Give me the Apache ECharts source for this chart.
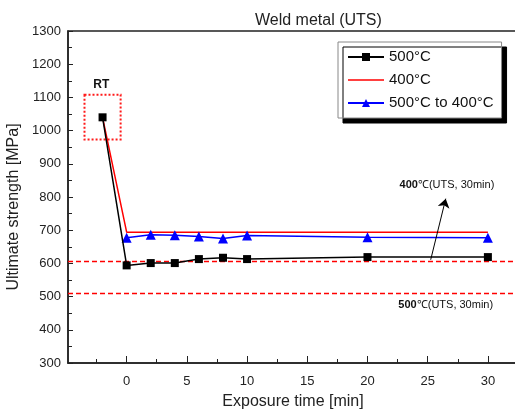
<!DOCTYPE html>
<html><head><meta charset="utf-8">
<script src="https://cdn.jsdelivr.net/npm/echarts@6/dist/echarts.min.js"></script>
<style>html,body{margin:0;padding:0;background:#fff}#c{width:515px;height:412px}</style>
</head><body><div id="c"></div>
<script>
// ---- data ----
const titleText = 'Weld metal (UTS)';
const xName = 'Exposure time [min]';
const yName = 'Ultimate strength [MPa]';
const seriesNames = ['500°C', '400°C', '500°C to 400°C'];
const t500 = [-2, 0, 2, 4, 6, 8, 10, 20, 30];
const v500 = [1040, 594, 601, 601, 613, 617, 613, 619, 619];
const t400 = [-2, 0, 2, 4, 6, 8, 10, 20, 30];
const v400 = [1040, 694, 694, 694, 694, 694, 694, 694, 694];
const t500to400 = [0, 2, 4, 6, 8, 10, 20, 30];
const v500to400 = [677, 686, 685, 681, 675, 684, 679, 677];
const refLevels = [605, 510];            // UTS at 30 min: 400°C, 500°C
const xLabelValues = [0, 5, 10, 15, 20, 25, 30];
const xMinorValues = [-2.5, 2.5, 7.5, 12.5, 17.5, 22.5, 27.5, 32.5];
const rtBox = [[-3.5, 1108], [-0.5, 973]];
const rtLabel = [-2.1, 1137];
const arrowLine = [[25.25, 611], [26.5, 795]];
const note400 = [26.6, 837];
const note500 = [26.5, 476];

const zip = (a, b) => a.map((x, i) => [x, b[i]]);
const FONT = 'Liberation Sans, Arial, sans-serif';
const RED = '#ff0000';

const chart = echarts.init(document.getElementById('c'), null, {renderer: 'canvas'});
const noteLabel = (num) => ({
  show: true, position: 'inside',
  formatter: '{b|' + num + '}{n|℃(UTS, 30min)}',
  rich: {
    b: {fontWeight: 'bold', fontSize: 11, color: '#111', fontFamily: FONT},
    n: {fontSize: 11, color: '#111', fontFamily: FONT}
  }
});
const dashStyle = {color: RED, width: 1.3, type: [5, 3], opacity: 1};

chart.setOption({
  animation: false,
  backgroundColor: '#fff',
  title: {
    text: titleText, left: 250, top: 8,
    textStyle: {fontSize: 16, fontWeight: 'normal', color: '#222', fontFamily: FONT}
  },
  grid: {left: 68, top: 31, right: -3, bottom: 49, outerBoundsMode: 'none', containLabel: false,
         show: true, borderColor: '#222', borderWidth: 1.5, backgroundColor: 'transparent'},
  legend: {
    orient: 'vertical', left: 338, top: 42,
    data: [
      {name: seriesNames[0]},
      {name: seriesNames[1], icon: 'path://M0,0 L36,0 L36,1.6 L0,1.6 Z', itemStyle: {color: RED}},
      {name: seriesNames[2]}
    ],
    itemWidth: 36, itemHeight: 10, itemGap: 7,
    padding: [7, 8, 7, 9],
    backgroundColor: '#fff', borderColor: '#888', borderWidth: 1,
    shadowColor: '#000', shadowOffsetX: 5, shadowOffsetY: 5, shadowBlur: 0,
    textStyle: {fontSize: 15, color: '#111', fontFamily: FONT, lineHeight: 16}
  },
  xAxis: [{
    type: 'value', min: -4.87, max: 32.5,
    name: xName, nameLocation: 'middle', nameGap: 31,
    nameTextStyle: {fontSize: 16, color: '#222', fontFamily: FONT},
    axisLine: {show: true, onZero: false, lineStyle: {color: '#222', width: 1.5}},
    axisTick: {show: true, inside: true, length: 7, customValues: xLabelValues, lineStyle: {color: '#222', width: 1}},
    axisLabel: {customValues: xLabelValues, fontSize: 13, color: '#222', margin: 12, fontFamily: FONT},
    splitLine: {show: false}
  }, {
    type: 'value', min: -4.87, max: 32.5, position: 'bottom',
    axisLine: {show: false, onZero: false},
    axisTick: {show: true, inside: true, length: 4, customValues: xMinorValues, lineStyle: {color: '#222', width: 1}},
    axisLabel: {show: false, customValues: xMinorValues},
    splitLine: {show: false}
  }],
  yAxis: {
    type: 'value', min: 300, max: 1300, interval: 100,
    name: yName, nameLocation: 'middle', nameGap: 45,
    nameTextStyle: {fontSize: 16, color: '#222', fontFamily: FONT, padding: [0, 20, 0, 0]},
    axisLine: {show: true, onZero: false, lineStyle: {color: '#222', width: 1.5}},
    axisTick: {show: true, inside: true, length: 5, lineStyle: {color: '#222', width: 1}},
    minorTick: {show: true, splitNumber: 2, length: 4, lineStyle: {color: '#222', width: 1}},
    axisLabel: {fontSize: 13, color: '#222', margin: 7, fontFamily: FONT, formatter: v => String(v)},
    splitLine: {show: false}
  },
  series: [
    {
      name: 'refLines', type: 'line', data: [], z: 2, color: RED,
      symbol: 'none', lineStyle: {color: RED},
      markLine: {
        silent: true, symbol: ['none', 'none'],
        label: {show: false},
        lineStyle: dashStyle,
        emphasis: {disabled: true},
        data: refLevels.map(v => ({yAxis: v}))
      }
    },
    {
      name: seriesNames[0], type: 'line', data: zip(t500, v500),
      symbol: 'rect', symbolSize: 8, z: 5,
      lineStyle: {color: '#000', width: 1.5}, itemStyle: {color: '#000'},
      markLine: {
        silent: true, symbol: ['none', 'arrow'], symbolSize: 9,
        label: {show: false},
        data: [[{coord: arrowLine[0]}, {coord: arrowLine[1]}]],
        lineStyle: {color: '#000', width: 1, type: 'solid'}
      },
      markArea: {
        silent: true,
        itemStyle: {color: 'transparent', borderColor: '#ff1a1a', borderWidth: 2, borderType: [2, 2]},
        data: [[{coord: rtBox[0]}, {coord: rtBox[1]}]]
      },
      markPoint: {
        silent: true,
        data: [
          {coord: rtLabel, symbol: 'circle', symbolSize: 1, itemStyle: {color: 'transparent'},
           label: {show: true, position: 'inside', formatter: 'RT', fontWeight: 'bold', fontSize: 12, color: '#111', fontFamily: FONT}},
          {coord: note400, symbol: 'circle', symbolSize: 1, itemStyle: {color: 'transparent'}, label: noteLabel('400')},
          {coord: note500, symbol: 'circle', symbolSize: 1, itemStyle: {color: 'transparent'}, label: noteLabel('500')}
        ]
      }
    },
    {
      name: seriesNames[1], type: 'line', data: zip(t400, v400),
      symbol: 'none', z: 3,
      lineStyle: {color: RED, width: 1.5}, itemStyle: {color: RED}
    },
    {
      name: seriesNames[2], type: 'line', data: zip(t500to400, v500to400),
      symbol: 'triangle', symbolSize: 10, z: 4,
      lineStyle: {color: '#0000ff', width: 1.5}, itemStyle: {color: '#0000ff'}
    }
  ]
});
</script></body></html>
